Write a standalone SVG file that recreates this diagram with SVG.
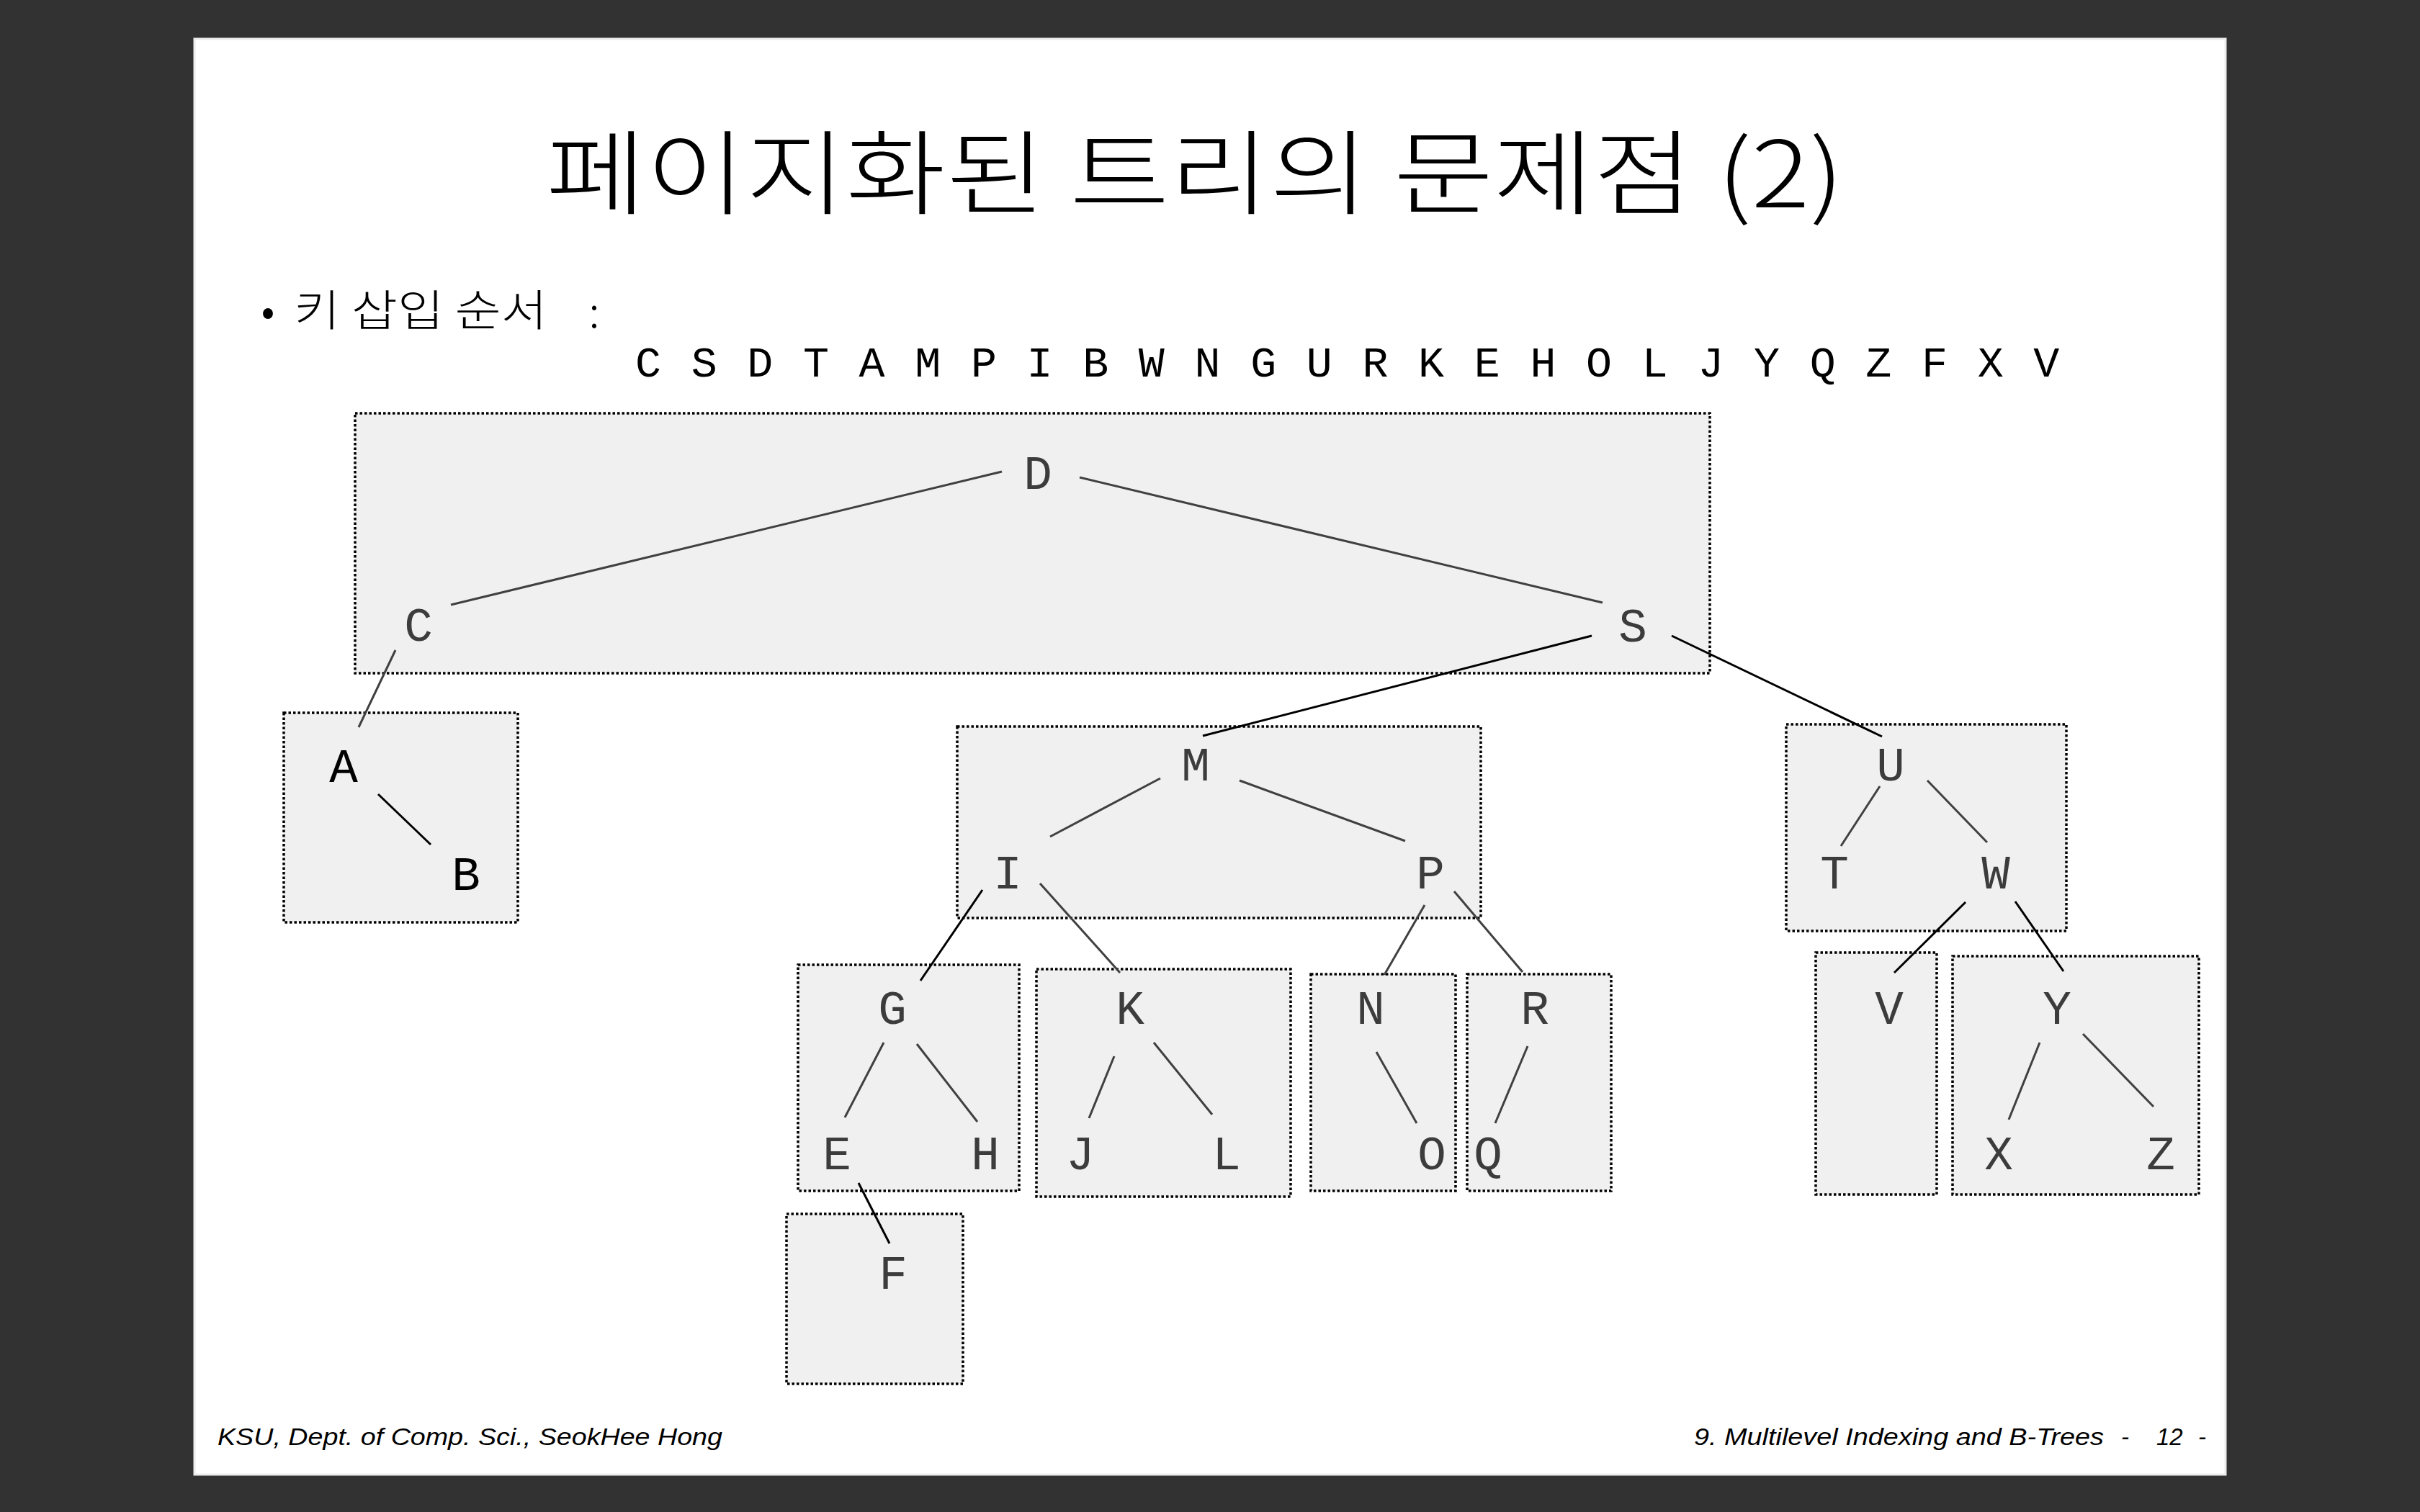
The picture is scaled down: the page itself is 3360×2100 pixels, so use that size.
<svg xmlns="http://www.w3.org/2000/svg" width="3360" height="2100" viewBox="0 0 3360 2100">
  <style>
    .title { font-family: "Noto Sans CJK KR", "Noto Sans", sans-serif; font-size: 128px; font-weight: 300; fill: #000; }
    .bullet { font-family: "Noto Sans CJK KR", "Noto Sans", sans-serif; font-size: 60px; font-weight: 300; fill: #000; }
    .seq { font-family: "Liberation Mono", "DejaVu Sans Mono", monospace; font-size: 60px; fill: #000; letter-spacing: 2.82px; }
    .key { font-family: "Liberation Mono", "DejaVu Sans Mono", monospace; font-size: 66px; fill: #3c3c3c; text-anchor: middle; }
    .key.dark { fill: #000; }
    .page { fill: #f0f0f0; stroke: #000; stroke-width: 3.5; stroke-dasharray: 3.5 3; }
    .link { stroke: #404040; stroke-width: 3; fill: none; }
    .link.dark { stroke: #000; }
    .foot { font-family: "Liberation Sans", Arial, sans-serif; font-style: italic; font-size: 33px; fill: #000; }
  </style>

  <!-- backdrop and slide sheet -->
  <rect x="0" y="0" width="3360" height="2100" fill="#323232"/>
  <rect x="270" y="54" width="2820" height="1994" fill="#ffffff" stroke="#ececec" stroke-width="3"/>

  <!-- heading -->
  <text class="title" x="758" y="288" textLength="1802" lengthAdjust="spacingAndGlyphs">페이지화된 트리의 문제점 (2)</text>

  <!-- insertion order line -->
  <text class="bullet" x="372" y="453" text-anchor="middle" font-family="Liberation Sans, sans-serif" font-weight="400">•</text>
  <text class="bullet" x="408" y="453" textLength="352" lengthAdjust="spacingAndGlyphs">키 삽입 순서</text>
  <text class="bullet" x="825" y="455" text-anchor="middle" font-weight="400">:</text>
  <text class="seq" x="882" y="523">C S D T A M P I B W N G U R K E H O L J Y Q Z F X V</text>

  <!-- pages (dotted boxes) -->
  <g id="pages">
    <rect id="page-DCS" class="page" x="493" y="574" width="1881" height="361"/>
    <rect id="page-AB" class="page" x="394" y="990" width="325" height="291"/>
    <rect id="page-MIP" class="page" x="1329" y="1009" width="727" height="266"/>
    <rect id="page-UTW" class="page" x="2480" y="1006" width="389" height="287"/>
    <rect id="page-GEH" class="page" x="1108" y="1340" width="307" height="314"/>
    <rect id="page-F" class="page" x="1092" y="1686" width="245" height="236"/>
    <rect id="page-KJL" class="page" x="1439" y="1346" width="353" height="316"/>
    <rect id="page-NO" class="page" x="1820" y="1353" width="201" height="301"/>
    <rect id="page-RQ" class="page" x="2037" y="1353" width="200" height="301"/>
    <rect id="page-V" class="page" x="2521" y="1323" width="168" height="336"/>
    <rect id="page-YXZ" class="page" x="2711" y="1328" width="342" height="331"/>
  </g>

  <!-- tree edges -->
  <g id="connectors">
    <line class="link" x1="626" y1="840" x2="1391" y2="655"/>
    <line class="link" x1="1499" y1="663" x2="2225" y2="837"/>
    <line class="link" x1="549" y1="903" x2="498" y2="1010"/>
    <line class="link dark" x1="525" y1="1103" x2="598" y2="1173"/>
    <line class="link dark" x1="2210" y1="883" x2="1670" y2="1022"/>
    <line class="link dark" x1="2321" y1="883" x2="2613" y2="1023"/>
    <line class="link" x1="1611" y1="1081" x2="1458" y2="1162"/>
    <line class="link" x1="1721" y1="1084" x2="1951" y2="1168"/>
    <line class="link dark" x1="1364" y1="1236" x2="1278" y2="1362"/>
    <line class="link" x1="1444" y1="1227" x2="1555" y2="1351"/>
    <line class="link" x1="1978" y1="1257" x2="1922" y2="1354"/>
    <line class="link" x1="2019" y1="1238" x2="2114" y2="1350"/>
    <line class="link" x1="1227" y1="1448" x2="1173" y2="1552"/>
    <line class="link" x1="1273" y1="1450" x2="1357" y2="1558"/>
    <line class="link dark" x1="1192" y1="1643" x2="1235" y2="1727"/>
    <line class="link" x1="1547" y1="1467" x2="1512" y2="1553"/>
    <line class="link" x1="1602" y1="1448" x2="1683" y2="1548"/>
    <line class="link" x1="1911" y1="1461" x2="1967" y2="1560"/>
    <line class="link" x1="2121" y1="1453" x2="2076" y2="1560"/>
    <line class="link" x1="2610" y1="1092" x2="2556" y2="1175"/>
    <line class="link" x1="2676" y1="1084" x2="2759" y2="1170"/>
    <line class="link dark" x1="2729" y1="1253" x2="2630" y2="1351"/>
    <line class="link dark" x1="2798" y1="1252" x2="2865" y2="1349"/>
    <line class="link" x1="2832" y1="1448" x2="2789" y2="1555"/>
    <line class="link" x1="2892" y1="1436" x2="2990" y2="1537"/>
  </g>

  <!-- keys -->
  <g id="node-D"><text class="key" x="1441" y="679">D</text></g>
  <g id="node-C"><text class="key" x="581" y="890">C</text></g>
  <g id="node-S"><text class="key" x="2267" y="891">S</text></g>
  <g id="node-A"><text class="key dark" x="477" y="1086">A</text></g>
  <g id="node-B"><text class="key dark" x="647" y="1236">B</text></g>
  <g id="node-M"><text class="key" x="1660" y="1084">M</text></g>
  <g id="node-I"><text class="key" x="1399" y="1234">I</text></g>
  <g id="node-P"><text class="key" x="1986" y="1234">P</text></g>
  <g id="node-U"><text class="key" x="2625" y="1084">U</text></g>
  <g id="node-T"><text class="key" x="2547" y="1234">T</text></g>
  <g id="node-W"><text class="key" x="2771" y="1234">W</text></g>
  <g id="node-G"><text class="key" x="1239" y="1422">G</text></g>
  <g id="node-K"><text class="key" x="1569" y="1422">K</text></g>
  <g id="node-N"><text class="key" x="1903" y="1422">N</text></g>
  <g id="node-R"><text class="key" x="2131" y="1422">R</text></g>
  <g id="node-V"><text class="key" x="2623" y="1422">V</text></g>
  <g id="node-Y"><text class="key" x="2856" y="1422">Y</text></g>
  <g id="node-E"><text class="key" x="1162" y="1624">E</text></g>
  <g id="node-H"><text class="key" x="1368" y="1624">H</text></g>
  <g id="node-J"><text class="key" x="1500" y="1624">J</text></g>
  <g id="node-L"><text class="key" x="1703" y="1624">L</text></g>
  <g id="node-O"><text class="key" x="1988" y="1624">O</text></g>
  <g id="node-Q"><text class="key" x="2066" y="1624">Q</text></g>
  <g id="node-X"><text class="key" x="2775" y="1624">X</text></g>
  <g id="node-Z"><text class="key" x="3000" y="1624">Z</text></g>
  <g id="node-F"><text class="key" x="1240" y="1790">F</text></g>

  <!-- footer -->
  <text class="foot" x="302" y="2007" textLength="701" lengthAdjust="spacingAndGlyphs">KSU, Dept. of Comp. Sci., SeokHee Hong</text>
  <text class="foot" x="2352" y="2007" textLength="569" lengthAdjust="spacingAndGlyphs">9. Multilevel Indexing and B-Trees</text>
  <text class="foot" y="2007"><tspan x="2945">-</tspan><tspan x="2994">12</tspan><tspan x="3052">-</tspan></text>
</svg>
